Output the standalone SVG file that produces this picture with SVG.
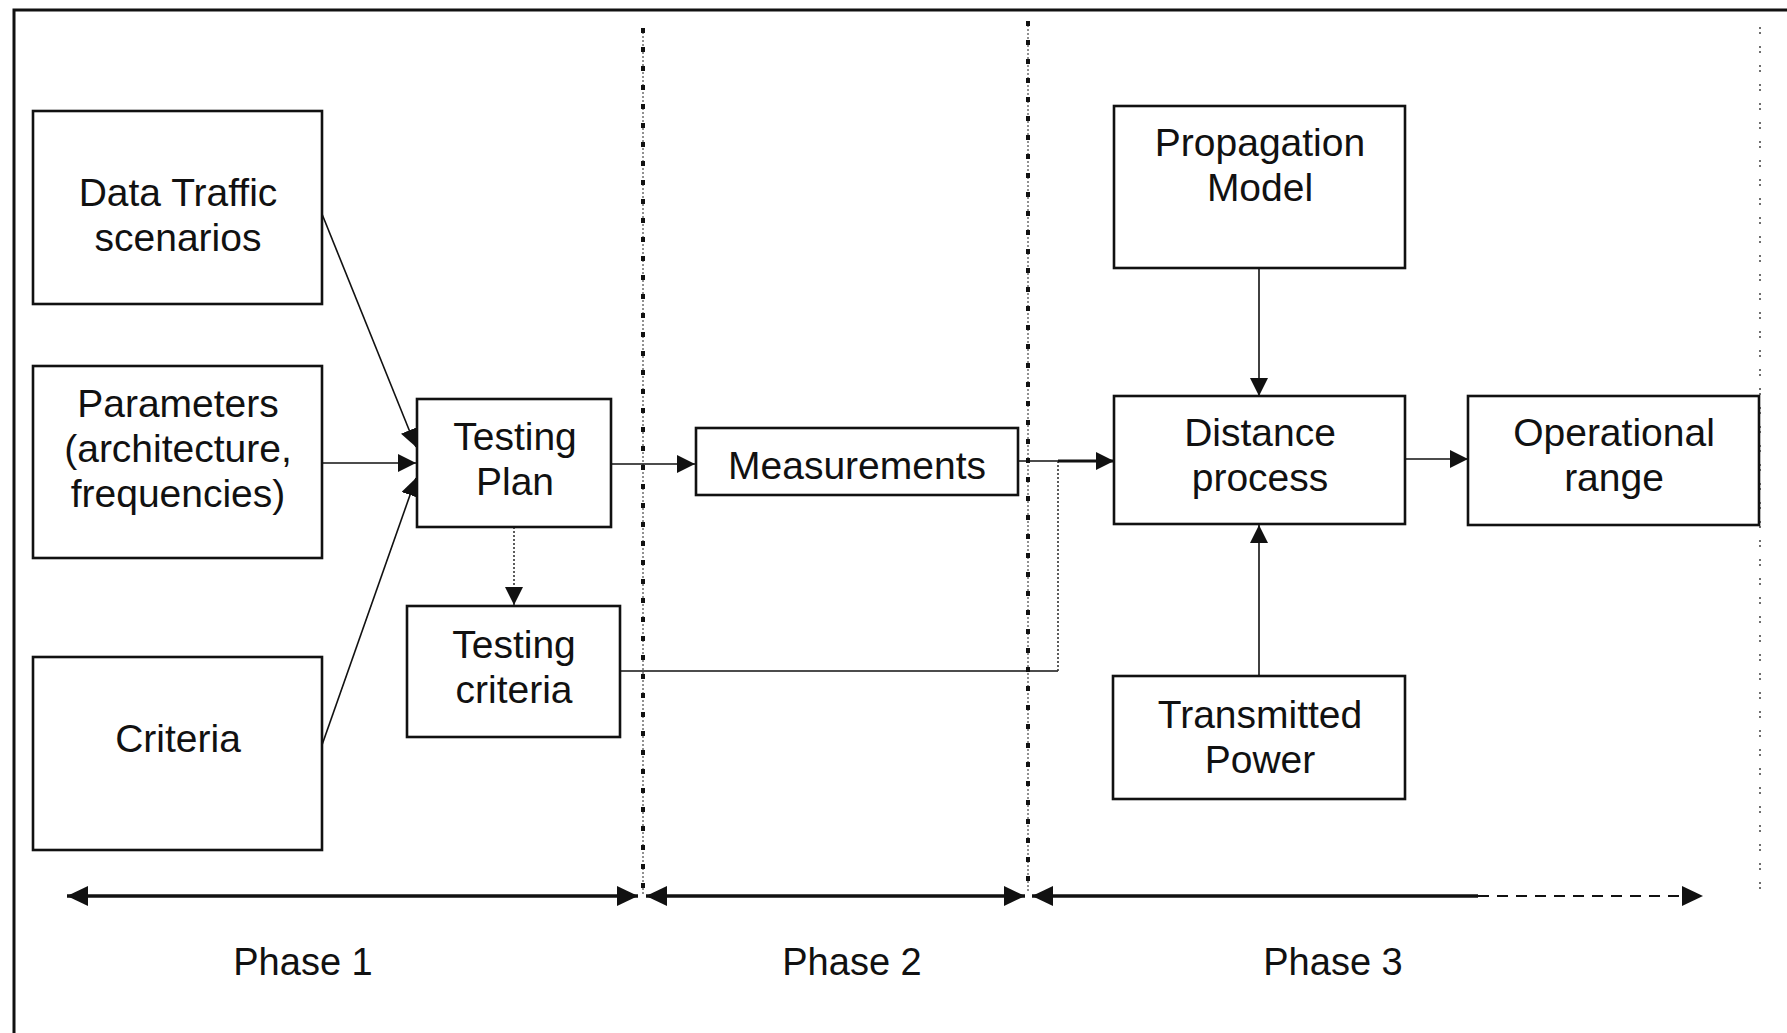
<svg xmlns="http://www.w3.org/2000/svg" width="1787" height="1033" viewBox="0 0 1787 1033">
  <style>
    .box { fill: #ffffff; stroke: #111; stroke-width: 2.6; }
    .lbl { font-family: "Liberation Sans", Arial, sans-serif; font-size: 39px; fill: #111; text-anchor: middle; }
    .phase { font-family: "Liberation Sans", Arial, sans-serif; font-size: 38px; fill: #111; text-anchor: middle; }
    .wire { fill: none; stroke: #111; stroke-width: 1.6; }
    .dot { fill: none; stroke: #333; stroke-width: 1.6; stroke-dasharray: 2 2; }
    .axis { fill: none; stroke: #111; stroke-width: 3.5; }
    .divider { fill: none; stroke: #222; stroke-width: 1; stroke-dasharray: 2 2; }
    .ticks { fill: none; stroke: #111; stroke-width: 4; stroke-dasharray: 5 14; }
  </style>
  <defs>
    <marker id="ah" viewBox="0 0 18 18" refX="18" refY="9" markerWidth="18" markerHeight="18" markerUnits="userSpaceOnUse" orient="auto">
      <path d="M0,0 L18,9 L0,18 z" fill="#111"/>
    </marker>
    <marker id="ahBig" viewBox="0 0 21 20" refX="21" refY="10" markerWidth="21" markerHeight="20" markerUnits="userSpaceOnUse" orient="auto-start-reverse">
      <path d="M0,0 L21,10 L0,20 z" fill="#111"/>
    </marker>
  </defs>

  <rect width="1787" height="1033" fill="#ffffff"/>

  <!-- outer frame (open to the right and bottom) -->
  <path d="M14,1040 L14,10 L1795,10" fill="none" stroke="#111" stroke-width="3"/>

  <!-- phase dividers -->
  <g id="dividers">
    <line class="divider" x1="643" y1="28" x2="643" y2="895"/>
    <line class="ticks" x1="643" y1="28" x2="643" y2="895"/>
    <line class="divider" x1="1028" y1="21" x2="1028" y2="893"/>
    <line class="ticks" x1="1028" y1="21" x2="1028" y2="893"/>
    <line x1="1760" y1="27" x2="1760" y2="892" fill="none" stroke="#333" stroke-width="1.4" stroke-dasharray="2 3 2 12"/>
  </g>

  <g id="connectors">
    <!-- inputs to Testing Plan -->
    <line class="wire" x1="322" y1="214" x2="416" y2="447" marker-end="url(#ah)"/>
    <line class="wire" x1="322" y1="463" x2="416" y2="463" marker-end="url(#ah)" stroke="#444"/>
    <line class="wire" x1="322" y1="745" x2="416" y2="478" marker-end="url(#ah)"/>
    <!-- Testing Plan to Testing criteria -->
    <line class="dot" x1="514" y1="527" x2="514" y2="605" marker-end="url(#ah)"/>
    <!-- Testing Plan to Measurements -->
    <line class="wire" x1="611" y1="464" x2="695" y2="464" marker-end="url(#ah)"/>
    <!-- Measurements and Testing criteria into Distance process -->
    <line class="wire" x1="1018" y1="461" x2="1058" y2="461"/>
    <path class="wire" d="M621,671 L1058,671"/>
    <line class="dot" x1="1058" y1="671" x2="1058" y2="461"/>
    <line x1="1058" y1="461" x2="1114" y2="461" stroke="#111" stroke-width="3" marker-end="url(#ah)"/>
    <!-- Propagation Model to Distance process -->
    <line class="wire" x1="1259" y1="268" x2="1259" y2="396" marker-end="url(#ah)"/>
    <!-- Transmitted Power to Distance process -->
    <line class="wire" x1="1259" y1="676" x2="1259" y2="525" marker-end="url(#ah)"/>
    <!-- Distance process to Operational range -->
    <line class="wire" x1="1405" y1="459" x2="1468" y2="459" marker-end="url(#ah)"/>

    <!-- phase spans -->
    <line class="axis" x1="67" y1="896" x2="638" y2="896" marker-start="url(#ahBig)" marker-end="url(#ahBig)"/>
    <line class="axis" x1="646" y1="896" x2="1025" y2="896" marker-start="url(#ahBig)" marker-end="url(#ahBig)"/>
    <line class="axis" x1="1032" y1="896" x2="1478" y2="896" marker-start="url(#ahBig)"/>
    <line x1="1478" y1="896" x2="1703" y2="896" fill="none" stroke="#111" stroke-width="2" stroke-dasharray="11 8" marker-end="url(#ahBig)"/>
  </g>

  <g id="data-traffic">
    <rect class="box" x="33" y="111" width="289" height="193"/>
    <text class="lbl" x="178" y="206">Data Traffic</text>
    <text class="lbl" x="178" y="251">scenarios</text>
  </g>
  <g id="parameters">
    <rect class="box" x="33" y="366" width="289" height="192"/>
    <text class="lbl" x="178" y="417">Parameters</text>
    <text class="lbl" x="178" y="462">(architecture,</text>
    <text class="lbl" x="178" y="507">frequencies)</text>
  </g>
  <g id="criteria">
    <rect class="box" x="33" y="657" width="289" height="193"/>
    <text class="lbl" x="178" y="752">Criteria</text>
  </g>
  <g id="testing-plan">
    <rect class="box" x="417" y="399" width="194" height="128"/>
    <text class="lbl" x="515" y="450">Testing</text>
    <text class="lbl" x="515" y="495">Plan</text>
  </g>
  <g id="testing-criteria">
    <rect class="box" x="407" y="606" width="213" height="131"/>
    <text class="lbl" x="514" y="658">Testing</text>
    <text class="lbl" x="514" y="703">criteria</text>
  </g>
  <g id="measurements">
    <rect class="box" x="696" y="428" width="322" height="67"/>
    <text class="lbl" x="857" y="479">Measurements</text>
  </g>
  <g id="propagation-model">
    <rect class="box" x="1114" y="106" width="291" height="162"/>
    <text class="lbl" x="1260" y="156">Propagation</text>
    <text class="lbl" x="1260" y="201">Model</text>
  </g>
  <g id="distance-process">
    <rect class="box" x="1114" y="396" width="291" height="128"/>
    <text class="lbl" x="1260" y="446">Distance</text>
    <text class="lbl" x="1260" y="491">process</text>
  </g>
  <g id="operational-range">
    <rect class="box" x="1468" y="396" width="291" height="129"/>
    <text class="lbl" x="1614" y="446">Operational</text>
    <text class="lbl" x="1614" y="491">range</text>
  </g>
  <g id="transmitted-power">
    <rect class="box" x="1113" y="676" width="292" height="123"/>
    <text class="lbl" x="1260" y="728">Transmitted</text>
    <text class="lbl" x="1260" y="773">Power</text>
  </g>

  <g id="phase-labels">
    <text class="phase" x="303" y="975">Phase 1</text>
    <text class="phase" x="852" y="975">Phase 2</text>
    <text class="phase" x="1333" y="975">Phase 3</text>
  </g>
</svg>
